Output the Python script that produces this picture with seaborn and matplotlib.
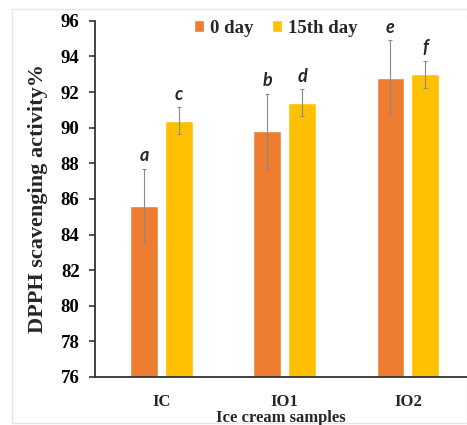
import matplotlib
matplotlib.use("Agg")
import matplotlib.pyplot as plt
import seaborn as sns
import pandas as pd
import numpy as np
from matplotlib.patches import Rectangle

samples = ["IC", "IO1", "IO2"]
days = ["0 day", "15th day"]
day0_values = [85.6, 89.8, 92.8]
day15_values = [90.4, 91.4, 93.0]
day0_err = [2.1, 2.1, 2.1]
day15_err = [0.75, 0.75, 0.75]
day0_letters = ["a", "b", "e"]
day15_letters = ["c", "d", "f"]
colors = ["#ED7D31", "#FFC000"]

df = pd.DataFrame({
    "sample": samples * 2,
    "day": [days[0]] * 3 + [days[1]] * 3,
    "value": day0_values + day15_values,
})

sns.set_style("white")
plt.rcParams["font.family"] = ["Liberation Serif", "DejaVu Serif"]

fig = plt.figure(figsize=(4.67, 4.25), dpi=100)
ax = fig.add_axes([0.203, 0.113, 0.797, 0.838])

sns.barplot(data=df, x="sample", y="value", hue="day", order=samples,
            hue_order=days, palette=colors, width=0.565, gap=0.2,
            errorbar=None, ax=ax, saturation=1)

errs = day0_err + day15_err
letters = day0_letters + day15_letters
vals = day0_values + day15_values
allbars = list(ax.containers[0]) + list(ax.containers[1])
for p, v, e, l in zip(allbars, vals, errs, letters):
    xc = p.get_x() + p.get_width() / 2
    ax.errorbar(xc, v, yerr=e, color="#8a8a8a", lw=0.8, capsize=1.5,
                capthick=0.8)
    ax.text(xc, v + e + 0.25, l, ha="center", va="bottom",
            fontsize=13, fontweight="bold", style="italic",
            family=["Lato", "DejaVu Sans"])

ax.set_ylim(76, 96)
ax.set_xlim(-0.54, 2.48)
ax.set_yticks(np.arange(76, 97, 2))
ax.tick_params(axis="y", which="both", left=True, length=4, width=1.2,
               labelsize=13.5, colors="#333333", labelcolor="black", pad=7)
ax.tick_params(axis="x", length=0, labelsize=12, pad=12)
for lab in ax.get_yticklabels() + ax.get_xticklabels():
    lab.set_fontweight("bold")

ax.set_ylabel("DPPH scavenging activity%", fontsize=16, fontweight="bold",
              labelpad=9)
ax.set_xlabel("Ice cream samples", fontsize=12, fontweight="bold",
              labelpad=0)

for s in ["top", "right"]:
    ax.spines[s].set_visible(False)
for s in ["left", "bottom"]:
    ax.spines[s].set_color("#333333")
    ax.spines[s].set_linewidth(1.3)

ax.legend(loc="upper center", bbox_to_anchor=(0.485, 1.05), ncol=2,
          frameon=False, handlelength=0.55, handleheight=0.6,
          handletextpad=0.3, columnspacing=1.0,
          prop={"family": "Liberation Serif", "weight": "bold", "size": 13.5})

fig.patches.append(Rectangle((0.026, 0.005), 0.974, 0.973,
                             transform=fig.transFigure, fill=False,
                             edgecolor="#e6e6e6", lw=1, zorder=-1))

fig.savefig("out.png", dpi=100)
